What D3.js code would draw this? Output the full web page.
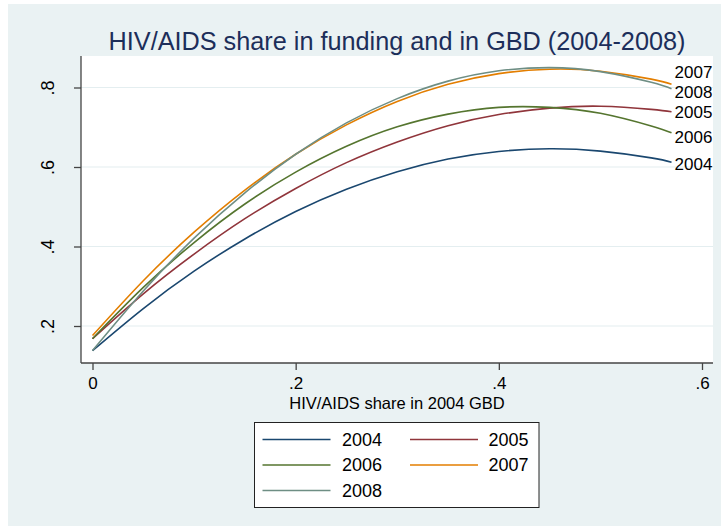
<!DOCTYPE html>
<html>
<head>
<meta charset="utf-8">
<script src="https://cdn.jsdelivr.net/npm/d3@7"></script>
<style>
  html, body { margin: 0; padding: 0; background: #fff; }
  svg { display: block; font-family: Arial, "Liberation Sans", sans-serif; }
</style>
</head>
<body>
<svg id="chart" width="721" height="526"></svg>
<script>
// HIV/AIDS share of 2004 GBD (x) against funding share, quadratic fit per year
const gbdShare = [0, 0.05, 0.10, 0.15, 0.20, 0.25, 0.30, 0.35, 0.40, 0.45, 0.50, 0.55, 0.57];
const years = ["2004", "2005", "2006", "2007", "2008"];
const fit2004 = [0.138, 0.244, 0.338, 0.419, 0.488, 0.544, 0.588, 0.620, 0.639, 0.646, 0.640, 0.623, 0.612];
const fit2005 = [0.168, 0.281, 0.381, 0.470, 0.546, 0.611, 0.663, 0.704, 0.732, 0.748, 0.753, 0.745, 0.739];
const fit2006 = [0.168, 0.297, 0.410, 0.507, 0.587, 0.652, 0.701, 0.733, 0.750, 0.750, 0.735, 0.703, 0.686];
const fit2007 = [0.176, 0.314, 0.436, 0.542, 0.632, 0.706, 0.765, 0.808, 0.835, 0.846, 0.841, 0.821, 0.808];
const fit2008 = [0.138, 0.288, 0.421, 0.535, 0.632, 0.711, 0.772, 0.816, 0.842, 0.850, 0.840, 0.813, 0.797];
const xTicks = [0, 0.2, 0.4, 0.6];
const yTicks = [0.2, 0.4, 0.6, 0.8];

const seriesValues = [fit2004, fit2005, fit2006, fit2007, fit2008];
const colors = ["#1a476f", "#90353b", "#55752f", "#e37e00", "#6e8e84"];
// vertical nudge (px) for the end-of-line year labels so they do not collide
const labelNudge = [2, 0, 4, -12, 3];

const svg = d3.select("#chart");
const W = 721, H = 526;
const plot = { left: 81, right: 713, top: 56, bottom: 363 };

// outer background
svg.append("rect").attr("x", 8).attr("y", 4).attr("width", W - 8).attr("height", H - 4)
  .attr("fill", "#eaf2f3");
// plot region
svg.append("rect").attr("x", plot.left).attr("y", plot.top)
  .attr("width", plot.right - plot.left).attr("height", plot.bottom - plot.top)
  .attr("fill", "#ffffff");

const x = d3.scaleLinear().domain([0, 0.6]).range([92.5, 702]);
const y = d3.scaleLinear().domain([0.2, 0.8]).range([326, 87.5]);

const fmt = d => d === 0 ? "0" : d3.format(".1f")(d).replace(/^0/, "");

// horizontal grid lines
svg.append("g").selectAll("line").data(yTicks).join("line")
  .attr("x1", plot.left).attr("x2", plot.right)
  .attr("y1", d => y(d)).attr("y2", d => y(d))
  .attr("stroke", "#e4eef0").attr("stroke-width", 1.2);

// y axis
const yAxis = svg.append("g").attr("transform", `translate(${plot.left},0)`)
  .call(d3.axisLeft(y).tickValues(yTicks).tickFormat(fmt).tickSize(7).tickSizeOuter(0));
yAxis.select(".domain").attr("d", `M0,${plot.top}V${plot.bottom}`).attr("stroke", "#444").attr("stroke-width", 1.3);
yAxis.selectAll(".tick line").attr("stroke", "#444").attr("stroke-width", 1.3);
yAxis.selectAll(".tick text")
  .attr("x", null).attr("dy", null)
  .attr("transform", "translate(-27,0) rotate(-90)")
  .attr("text-anchor", "middle")
  .attr("font-size", 18).attr("fill", "#000")
  .attr("font-family", "Arial, 'Liberation Sans', sans-serif");

// x axis
const xAxis = svg.append("g").attr("transform", `translate(0,${plot.bottom})`)
  .call(d3.axisBottom(x).tickValues(xTicks).tickFormat(fmt).tickSize(7).tickSizeOuter(0));
xAxis.select(".domain").attr("d", `M${plot.left},0H${plot.right}`).attr("stroke", "#444").attr("stroke-width", 1.3);
xAxis.selectAll(".tick line").attr("stroke", "#444").attr("stroke-width", 1.3);
xAxis.selectAll(".tick text")
  .attr("y", 26).attr("dy", null)
  .attr("font-size", 17).attr("fill", "#000")
  .attr("font-family", "Arial, 'Liberation Sans', sans-serif");

// axis title
svg.append("text").attr("x", (plot.left + plot.right) / 2).attr("y", 409)
  .attr("text-anchor", "middle").attr("font-size", 16.5).attr("fill", "#000")
  .text("HIV/AIDS share in 2004 GBD");

// chart title
const title = svg.append("text").attr("x", (plot.left + plot.right) / 2).attr("y", 50)
  .attr("text-anchor", "middle").attr("font-size", 22).attr("fill", "#1c2e5a")
  .text("HIV/AIDS share in funding and in GBD (2004-2008)");
const tw = title.node().getComputedTextLength();
title.attr("font-size", 22 * 577 / tw);

// fitted lines
const line = d3.line()
  .x((d, i) => x(gbdShare[i]))
  .y(d => y(d))
  .curve(d3.curveNatural);

svg.append("g").selectAll("path").data(seriesValues).join("path")
  .attr("d", d => line(d))
  .attr("fill", "none")
  .attr("stroke", (d, i) => colors[i])
  .attr("stroke-width", 1.6);

// year labels at line ends
svg.append("g").selectAll("text").data(seriesValues).join("text")
  .attr("x", d => x(gbdShare[d.length - 1]) + 3)
  .attr("y", (d, i) => y(d[d.length - 1]) + labelNudge[i])
  .attr("dy", "0.35em")
  .attr("font-size", 17).attr("fill", "#000")
  .text((d, i) => years[i]);

// legend
const lg = svg.append("g");
lg.append("rect").attr("x", 254.5).attr("y", 422.5).attr("width", 284.5).attr("height", 85)
  .attr("fill", "#fff").attr("stroke", "#222").attr("stroke-width", 1);
const colX = [262.5, 410], textX = [342, 488.5];
years.forEach((yr, i) => {
  const c = i % 2, r = Math.floor(i / 2);
  const cy = 439.5 + r * 25.5;
  lg.append("line").attr("x1", colX[c]).attr("x2", colX[c] + 68)
    .attr("y1", cy).attr("y2", cy)
    .attr("stroke", colors[i]).attr("stroke-width", 1.6);
  lg.append("text").attr("x", textX[c]).attr("y", cy).attr("dy", "0.35em")
    .attr("font-size", 18).attr("fill", "#000").text(yr);
});
</script>
</body>
</html>
